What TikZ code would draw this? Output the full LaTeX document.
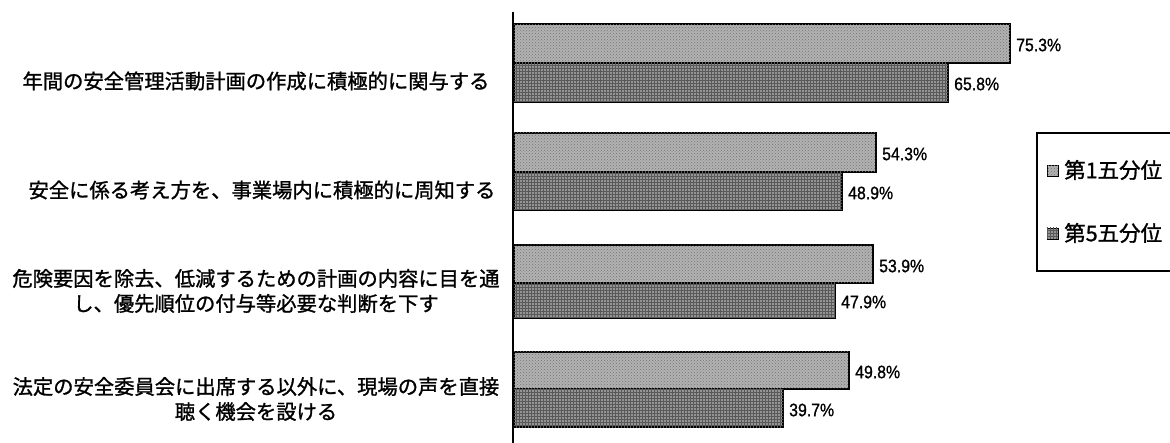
\documentclass[tikz,border=0pt]{standalone}
\usepackage{fontspec}
\usetikzlibrary{patterns}
\newfontfamily\jpfont[FakeBold=1.2]{Noto Sans CJK JP}
\newfontfamily\numfont[FakeStretch=0.88,FakeBold=1]{Liberation Sans}
\begin{document}
\begin{tikzpicture}[x=1pt,y=-1pt,
  barA/.style={draw=black, line width=1.1pt, fill=black!30,
    postaction={pattern=crosshatch dots, pattern color=black!55}},
  barB/.style={draw=black, line width=1.1pt, fill=black!42,
    postaction={pattern=grid, pattern color=black!65}},
  cat/.style={font=\jpfont\fontsize{20.3}{25}\selectfont, align=center, inner sep=0pt},
  val/.style={font=\numfont\fontsize{18}{20}\selectfont, anchor=west, inner sep=0pt},
  leg/.style={font=\jpfont\fontsize{21.5}{24}\selectfont, anchor=west, inner sep=0pt}]
\useasboundingbox (0,0) rectangle (1170,443);
\clip (0,0) rectangle (1170,443);
% bars
\draw[barA] (514,24) rectangle (1010,63);
\draw[barB] (514,63) rectangle (948,102);
\draw[barA] (514,133) rectangle (876,172);
\draw[barB] (514,172) rectangle (842,210);
\draw[barA] (514,245) rectangle (873,283);
\draw[barB] (514,283) rectangle (835,318);
\draw[barA] (514,352) rectangle (849,389);
\draw[barB] (514,389) rectangle (783,427);
% axis
\coordinate (axtop) at (513,12);
\coordinate (axbot) at (513,445);
\draw[line width=1.5pt] (axtop) -- (axbot);
% value labels
\node[val] (v1a) at (1016,45) {75.3\%};
\node[val] (v1b) at (954,84) {65.8\%};
\node[val] (v2a) at (882,154) {54.3\%};
\node[val] (v2b) at (848,193) {48.9\%};
\node[val] (v3a) at (879,266) {53.9\%};
\node[val] (v3b) at (841,302) {47.9\%};
\node[val] (v4a) at (855,372) {49.8\%};
\node[val] (v4b) at (789,410) {39.7\%};
% category labels
\node[cat] (c1) at (256,81) {年間の安全管理活動計画の作成に積極的に関与する};
\node[cat] (c2) at (262,190) {安全に係る考え方を、事業場内に積極的に周知する};
\node[cat] (c3) at (256,291) {危険要因を除去、低減するための計画の内容に目を通\\し、優先順位の付与等必要な判断を下す};
\node[cat] (c4) at (256,399) {法定の安全委員会に出席する以外に、現場の声を直接\\聴く機会を設ける};
% legend
\draw[line width=1.3pt] (1180,133) -- (1037,133) -- (1037,271) -- (1180,271);
\draw[barA, line width=0.6pt] (1047,165) rectangle (1058,176);
\draw[barB, line width=0.6pt] (1047,228) rectangle (1058,239);
\node[leg] (l1) at (1064,170) {第1五分位};
\node[leg] (l2) at (1064,233) {第5五分位};
\end{tikzpicture}
\end{document}
